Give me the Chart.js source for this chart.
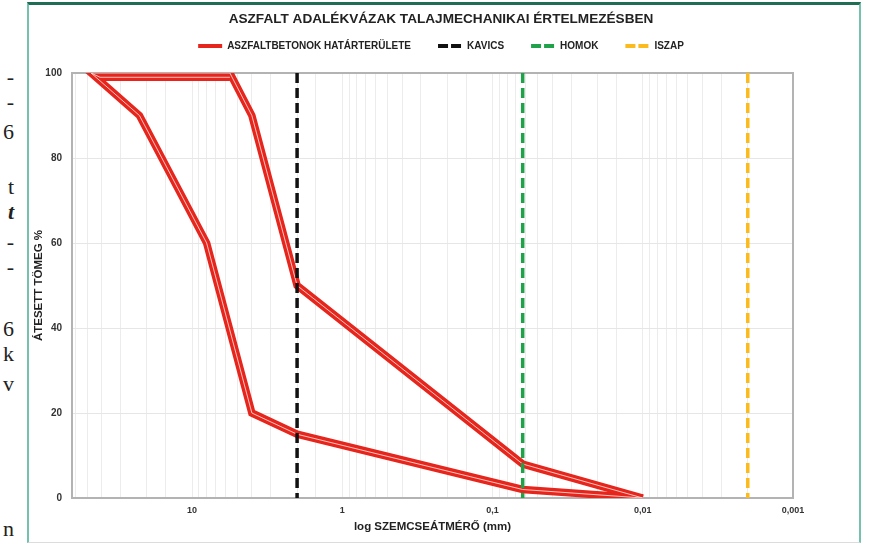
<!DOCTYPE html>
<html lang="hu">
<head>
<meta charset="utf-8">
<title>Aszfalt adalékvázak talajmechanikai értelmezésben</title>
<script src="https://cdn.jsdelivr.net/npm/chart.js@4/dist/chart.umd.min.js"></script>
<style>
  html, body { margin: 0; padding: 0; background: #fff; overflow: hidden; }
  body { width: 874px; height: 545px; position: relative; }
  .frame {
    position: absolute; left: 27px; top: 2px; width: 830px; height: 537px;
    border-top: 3px solid #1f6d55; border-left: 2px solid #74c1ae;
    border-right: 2px solid #74c1ae; border-bottom: 1px solid #dcdcdc;
  }
  .side { position: absolute; left: -100px; width: 114px; text-align: right;
    font: 22px "Liberation Serif", "DejaVu Serif", serif; color: #222; line-height: 22px; }
  .wrap { position: absolute; left: 0; top: 0; width: 874px; height: 545px; }
</style>
</head>
<body>
<div class="frame"></div>
<div class="side" style="top:66px">-</div>
<div class="side" style="top:91px">-</div>
<div class="side" style="top:121px">6</div>
<div class="side" style="top:176px">t</div>
<div class="side" style="top:201px;font-style:italic;font-weight:bold">t</div>
<div class="side" style="top:231px">-</div>
<div class="side" style="top:256px">-</div>
<div class="side" style="top:318px">6</div>
<div class="side" style="top:343px">k</div>
<div class="side" style="top:373px">v</div>
<div class="side" style="top:518px">n</div>
<div class="wrap"><canvas id="c" width="874" height="545"></canvas></div>
<script>
// Grain size (mm) and passing percentage of the asphalt concrete envelope
const fineLimitD   = [0.01, 0.063, 2, 4, 5.6, 47];
const fineLimitP   = [0, 8, 50, 90, 100, 100];
const coarseLimitD = [5.6, 41, 47, 22.4, 8, 4, 2, 0.063, 0.01];
const coarseLimitP = [99, 99, 100, 90, 60, 20, 15, 2, 0];

// Soil-mechanics grain size boundaries (mm)
const boundaryNames = ['KAVICS', 'HOMOK', 'ISZAP'];
const boundaryD = [2, 0.063, 0.002];
const boundaryP = [100, 0];

const envelopeName = 'ASZFALTBETONOK HATÁRTERÜLETE';
const xTickLabels = { '1': '10', '0': '1', '-1': '0,1', '-2': '0,01', '-3': '0,001' };
const yTicks = [0, 20, 40, 60, 80, 100];

const RED = '#e6251c';
const boundaryColors = ['#111111', '#1fa24a', '#fbbb1c'];
const FONT = '"Liberation Sans", Arial, sans-serif';

const pts = (xs, ys) => xs.map((x, i) => ({ x, y: ys[i] }));

const datasets = [
  { label: envelopeName, data: pts(fineLimitD, fineLimitP), borderColor: RED, borderWidth: 7.5, order: 3 },
  { label: '', data: pts(coarseLimitD, coarseLimitP), borderColor: RED, borderWidth: 7.5, order: 3 },
  { label: '', data: pts(fineLimitD, fineLimitP), borderColor: 'rgba(255,225,220,0.85)', borderWidth: 1, order: 2 },
  { label: '', data: pts(coarseLimitD, coarseLimitP), borderColor: 'rgba(255,225,220,0.85)', borderWidth: 1, order: 2 }
];
boundaryNames.forEach((name, i) => {
  datasets.push({
    label: name,
    data: pts([boundaryD[i], boundaryD[i]], boundaryP),
    borderColor: boundaryColors[i], borderWidth: 3.5, borderDash: [10, 5], order: 1
  });
});
datasets.forEach(d => {
  d.showLine = true; d.pointRadius = 0; d.pointHoverRadius = 0; d.fill = false;
  d.backgroundColor = d.borderColor; d.tension = 0;
  d.borderCapStyle = 'butt'; d.borderJoinStyle = 'miter';
});

const legendNames = [envelopeName].concat(boundaryNames);

new Chart(document.getElementById('c'), {
  type: 'scatter',
  data: { datasets },
  options: {
    responsive: false,
    animation: false,
    events: [],
    layout: { padding: { left: 30, right: 22, top: 0, bottom: 0 } },
    plugins: {
      tooltip: { enabled: false },
      title: {
        display: true,
        text: 'ASZFALT ADALÉKVÁZAK TALAJMECHANIKAI ÉRTELMEZÉSBEN',
        color: '#222',
        font: { family: FONT, size: 13.6, weight: 'bold' },
        padding: { top: 11, bottom: -13.3 }
      },
      legend: {
        display: true,
        position: 'top',
        labels: {
          color: '#222',
          font: { family: FONT, size: 10, weight: 'bold' },
          usePointStyle: true,
          pointStyle: 'line',
          pointStyleWidth: 24,
          padding: 27,
          filter: item => legendNames.includes(item.text),
          sort: (a, b) => a.datasetIndex - b.datasetIndex,
          generateLabels: chart => {
            const items = Chart.defaults.plugins.legend.labels.generateLabels(chart);
            items.forEach(it => {
              it.lineWidth = 4;
              it.pointStyle = 'line';
              it.lineDash = it.text === envelopeName ? [] : [10, 3];
            });
            return items;
          }
        }
      }
    },
    scales: {
      x: {
        type: 'logarithmic',
        reverse: true,
        min: 0.001,
        max: 63,
        afterFit: s => { s.height = 47; },
        grid: { color: '#ececec', lineWidth: 1, drawTicks: false },
        border: { display: true, color: '#b3b3b3', width: 2 },
        ticks: {
          autoSkip: false,
          maxRotation: 0,
          padding: 7.5,
          color: '#333',
          font: { family: FONT, size: 9, weight: 'bold' },
          callback: v => {
            const e = Math.log10(v);
            const r = Math.round(e);
            if (Math.abs(e - r) > 1e-6) return '';
            return xTickLabels[String(r)] || '';
          }
        },
        title: {
          display: true,
          text: 'log SZEMCSEÁTMÉRŐ (mm)',
          color: '#222',
          font: { family: FONT, size: 11.5, weight: 'bold' },
          padding: { top: 0, bottom: 11 }
        }
      },
      xTop: {
        type: 'linear', position: 'top', min: 0, max: 1,
        afterFit: s => { s.height = 12; },
        grid: { display: false, drawOnChartArea: false, drawTicks: false },
        border: { display: true, color: '#b3b3b3', width: 2 },
        ticks: { display: false }
      },
      y: {
        type: 'linear',
        min: 0,
        max: 100,
        afterFit: s => { s.width = 42; },
        afterBuildTicks: s => { s.ticks = yTicks.map(v => ({ value: v })); },
        grid: { color: '#e6e6e6', lineWidth: 1, drawTicks: false },
        border: { display: true, color: '#b3b3b3', width: 2 },
        ticks: {
          padding: 10,
          color: '#333',
          font: { family: FONT, size: 10, weight: 'bold' }
        },
        title: {
          display: true,
          text: 'ÁTESETT TÖMEG %',
          color: '#222',
          font: { family: FONT, size: 11.5, weight: 'bold' },
          padding: { top: 2, bottom: 0 }
        }
      },
      yRight: {
        type: 'linear', position: 'right', min: 0, max: 100,
        afterFit: s => { s.width = 59; },
        grid: { display: false, drawOnChartArea: false, drawTicks: false },
        border: { display: true, color: '#b3b3b3', width: 2 },
        ticks: { display: false }
      }
    }
  }
});
</script>
</body>
</html>
